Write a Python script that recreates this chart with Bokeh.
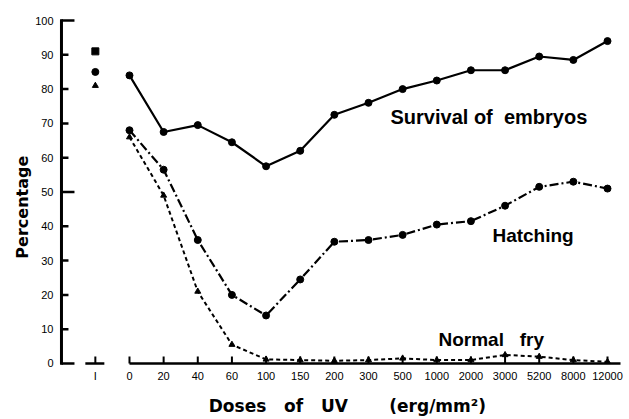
from bokeh.plotting import figure
from bokeh.models import FixedTicker, Label, Range1d
from bokeh.embed import file_html
from bokeh.resources import INLINE

# ---- data ----
control_label = "I"
doses = ["0", "20", "40", "60", "100", "150", "200", "300", "500", "1000",
         "2000", "3000", "5200", "8000", "12000"]
survival = [84, 67.5, 69.5, 64.5, 57.5, 62, 72.5, 76, 80, 82.5, 85.5, 85.5, 89.5, 88.5, 94]
hatching = [68, 56.5, 36, 20, 14, 24.5, 35.5, 36, 37.5, 40.5, 41.5, 46, 51.5, 53, 51]
normal_fry = [66, 49, 21, 5.5, 1.2, 1, 0.8, 1, 1.5, 1, 1, 2.5, 2, 1, 0.5]
control_survival = 91
control_hatching = 85
control_fry = 81
y_ticks = [0, 10, 20, 30, 40, 50, 60, 70, 80, 90, 100]

xs = list(range(len(doses)))
ctrl_x = -1
NB = "\u00a0"

p = figure(width=629, height=419, output_backend="svg", toolbar_location=None,
           title=None, x_range=Range1d(-2.167, 14.41), y_range=Range1d(-0.875, 101.75),
           min_border_left=55, min_border_right=8, min_border_top=14, min_border_bottom=53)
p.outline_line_color = None
p.xgrid.visible = False
p.ygrid.visible = False
p.background_fill_color = "white"

# axes (labels only; lines drawn by hand)
p.xaxis.ticker = FixedTicker(ticks=[ctrl_x] + xs)
p.xaxis.major_label_overrides = {**{ctrl_x: control_label}, **{x: d for x, d in zip(xs, doses)}}
p.xaxis.axis_line_color = None
p.xaxis.major_tick_line_color = None
p.xaxis.minor_tick_line_color = None
p.xaxis.major_tick_out = 0
p.xaxis.major_tick_in = 0
p.xaxis.major_label_standoff = 3
p.xaxis.major_label_text_font = "Liberation Sans"
p.xaxis.major_label_text_font_size = "11px"
p.xaxis.major_label_text_color = "black"
p.xaxis.axis_label = (NB * 3 + "Doses" + NB * 3 + "of" + NB * 3 + "UV" + NB * 7 + "(erg/mm\u00b2)")
p.xaxis.axis_label_text_font = "DejaVu Sans"
p.xaxis.axis_label_text_font_size = "17px"
p.xaxis.axis_label_text_font_style = "bold"
p.xaxis.axis_label_text_color = "black"
p.xaxis.axis_label_standoff = 11

p.yaxis.ticker = FixedTicker(ticks=y_ticks)
p.yaxis.axis_line_color = None
p.yaxis.major_tick_line_color = None
p.yaxis.minor_tick_line_color = None
p.yaxis.major_tick_out = 0
p.yaxis.major_tick_in = 0
p.yaxis.major_label_standoff = 2
p.yaxis.major_label_text_font = "Liberation Sans"
p.yaxis.major_label_text_font_size = "11px"
p.yaxis.major_label_text_color = "black"
p.yaxis.axis_label = "Percentage" + NB * 6
p.yaxis.axis_label_text_font = "DejaVu Sans"
p.yaxis.axis_label_text_font_size = "16px"
p.yaxis.axis_label_text_font_style = "bold"
p.yaxis.axis_label_text_color = "black"
p.yaxis.axis_label_standoff = 0

# hand-drawn broken axes
spine_x = -1.992
px_x = 1 / 34.14
px_y = 1 / 3.43
p.segment(x0=[spine_x], y0=[-0.4], x1=[spine_x], y1=[100.4], line_color="black", line_width=3)
long_ticks = [0, 50, 100]
p.segment(x0=[spine_x] * len(y_ticks), y0=y_ticks,
          x1=[spine_x + (13 if t in long_ticks else 7) * px_x for t in y_ticks], y1=y_ticks,
          line_color="black", line_width=2.5)
# control baseline
p.segment(x0=[ctrl_x - 10 * px_x], y0=[0], x1=[ctrl_x + 9 * px_x], y1=[0], line_color="black", line_width=2.5)
# main baseline
p.segment(x0=[xs[0]], y0=[0], x1=[xs[-1] + 13 * px_x], y1=[0], line_color="black", line_width=2.5)
tick_xs = [ctrl_x] + xs
p.segment(x0=tick_xs, y0=[0] * len(tick_xs), x1=tick_xs, y1=[7 * px_y] * len(tick_xs),
          line_color="black", line_width=2)

# series
p.line(xs, survival, line_color="black", line_width=2.2)
p.scatter(xs, survival, marker="circle", size=7, color="black")

p.line(xs, hatching, line_color="black", line_width=2.2, line_dash="9 3 2 3")
p.scatter(xs, hatching, marker="circle", size=7, color="black")

p.line(xs, normal_fry, line_color="black", line_width=2, line_dash="4 3")
p.scatter(xs, normal_fry, marker="triangle", size=6, color="black")

# control points
p.scatter([ctrl_x], [control_survival], marker="square", size=7, color="black")
p.scatter([ctrl_x], [control_hatching], marker="circle", size=7, color="black")
p.scatter([ctrl_x], [control_fry], marker="triangle", size=6, color="black")

# curve labels
lab_font = "Liberation Sans"
for txt, x, y, fs in [("Survival" + NB + "of" + NB * 2 + "embryos", 7.645, 72.0, "20px"),
                      ("Hatching", 10.63, 37.3, "19px"),
                      ("Normal" + NB * 3 + "fry", 9.05, 7.0, "19px")]:
    p.add_layout(Label(x=x, y=y, text=txt, text_font=lab_font, text_font_size=fs,
                       text_font_style="bold", text_baseline="middle", text_align="left",
                       text_color="black"))

open("out.html", "w").write(file_html(p, INLINE))
